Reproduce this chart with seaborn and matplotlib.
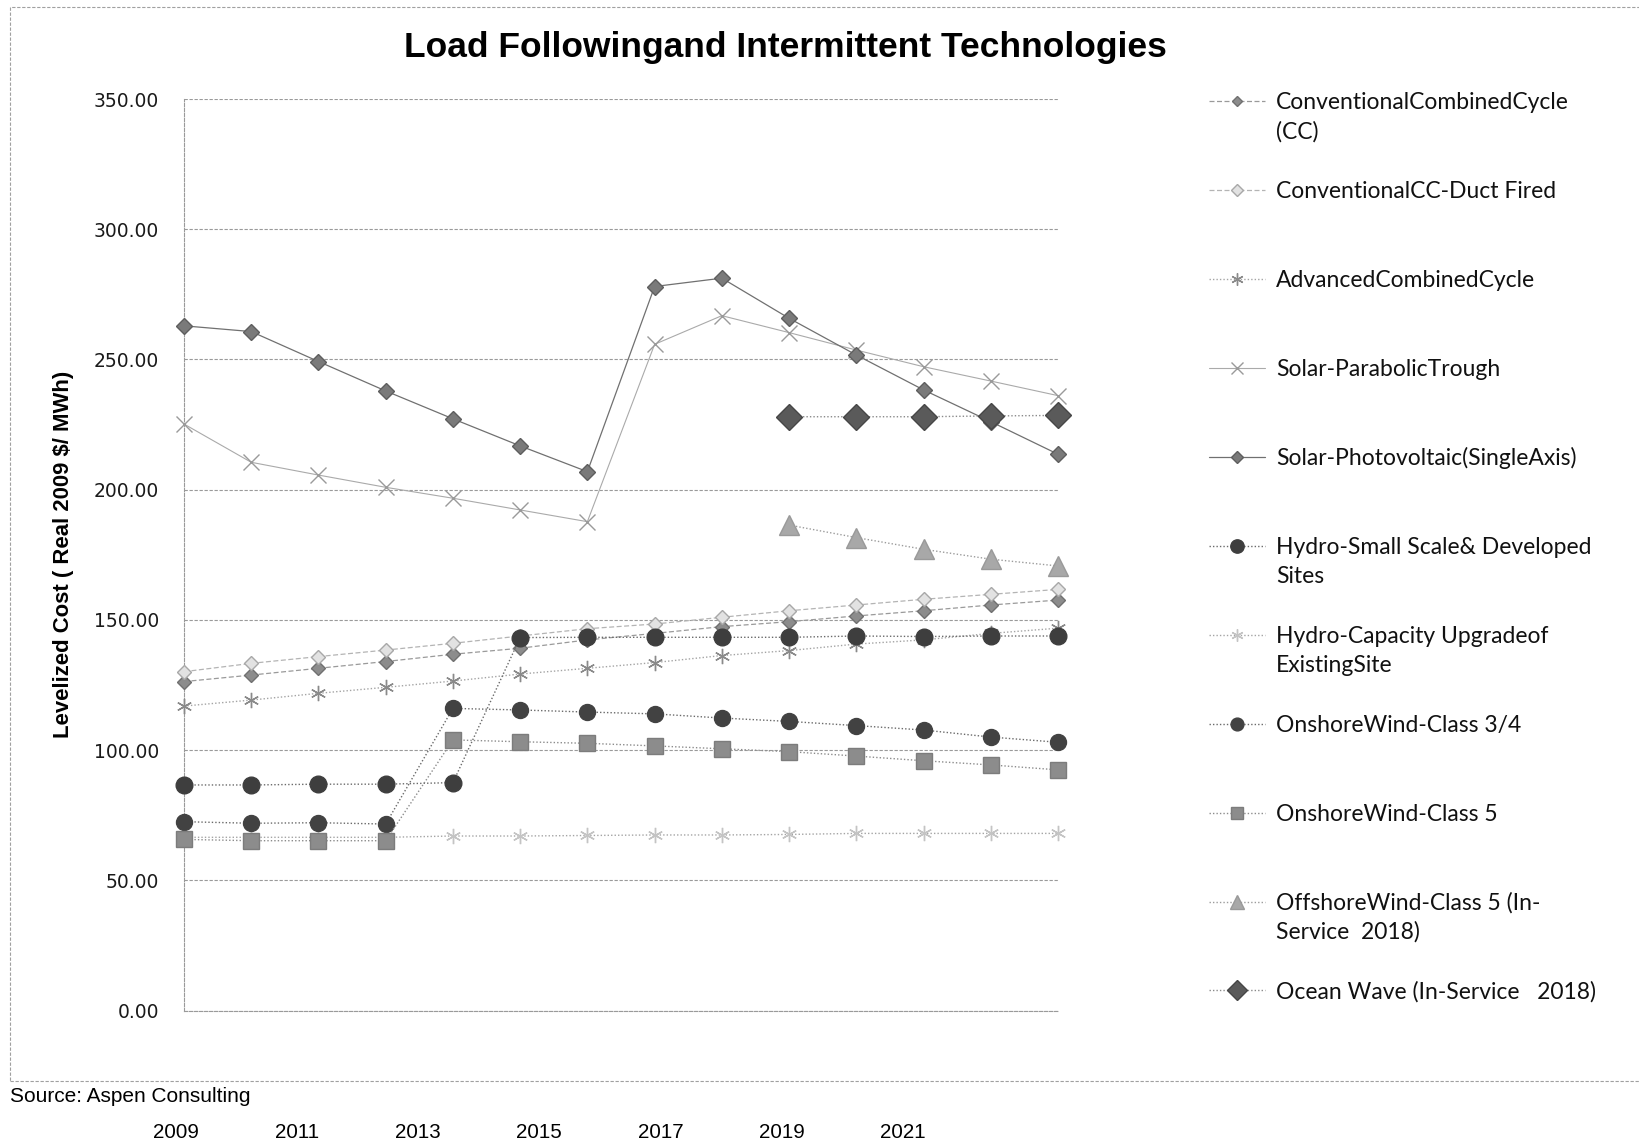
import matplotlib
matplotlib.use("Agg")
import matplotlib.pyplot as plt
from matplotlib.lines import Line2D
from matplotlib.patches import Rectangle
from matplotlib.ticker import FormatStrFormatter
import numpy as np
import seaborn as sns

sns.set_style("white")
plt.rcParams["font.family"] = ["Liberation Sans", "DejaVu Sans"]
plt.rcParams["text.color"] = "black"
plt.rcParams["axes.labelcolor"] = "black"

nan = np.nan

years = [2009, 2010, 2011, 2012, 2013, 2014, 2015, 2016, 2017, 2018, 2019, 2020, 2021, 2022]
year_labels = [2009, 2011, 2013, 2015, 2017, 2019, 2021]
y_ticks = [0, 50, 100, 150, 200, 250, 300, 350]

cc = [126.3, 128.8, 131.4, 134.0, 136.8, 139.1, 142.3, 144.8, 147.4, 149.3, 151.5, 153.5, 155.7, 157.6]
cc_duct = [130.1, 133.3, 135.9, 138.4, 141.0, 143.8, 146.6, 148.4, 151.0, 153.5, 155.7, 157.9, 159.8, 161.7]
adv_cc = [116.9, 119.2, 121.8, 124.1, 126.5, 129.2, 131.4, 133.6, 136.3, 138.2, 140.7, 142.3, 144.8, 146.8]
trough = [225.2, 210.5, 205.6, 200.9, 196.7, 192.2, 187.7, 255.8, 266.8, 260.3, 253.6, 247.2, 241.7, 236.1]
pv = [262.9, 260.7, 249.2, 237.9, 227.2, 216.8, 206.9, 278.0, 281.2, 265.8, 251.7, 238.3, 226.1, 213.6]
hydro_small = [86.6, 86.6, 86.9, 86.9, 87.5, 143.2, 143.3, 143.3, 143.3, 143.3, 143.8, 143.6, 143.8, 143.8]
hydro_upgrade = [66.5, 66.5, 66.5, 66.5, 67.0, 67.0, 67.2, 67.4, 67.4, 67.6, 68.0, 68.0, 68.0, 68.0]
wind34 = [72.5, 71.9, 72.1, 71.6, 116.0, 115.4, 114.6, 113.9, 112.3, 111.0, 109.4, 107.7, 105.0, 103.0]
wind5 = [65.7, 65.2, 65.2, 65.2, 103.9, 103.2, 102.6, 101.6, 100.5, 99.4, 97.7, 95.9, 94.3, 92.4]
offshore = [nan, nan, nan, nan, nan, nan, nan, nan, nan, 186.4, 181.6, 177.1, 173.3, 170.7]
ocean = [nan, nan, nan, nan, nan, nan, nan, nan, nan, 228.0, 228.0, 228.0, 228.3, 228.5]

names = [
    "ConventionalCombinedCycle\n(CC)",
    "ConventionalCC-Duct Fired",
    "AdvancedCombinedCycle",
    "Solar-ParabolicTrough",
    "Solar-Photovoltaic(SingleAxis)",
    "Hydro-Small Scale& Developed\nSites",
    "Hydro-Capacity Upgradeof\nExistingSite",
    "OnshoreWind-Class 3/4",
    "OnshoreWind-Class 5",
    "OffshoreWind-Class 5 (In-\nService  2018)",
    "Ocean Wave (In-Service   2018)",
]
series = [cc, cc_duct, adv_cc, trough, pv, hydro_small, hydro_upgrade, wind34, wind5, offshore, ocean]

asterisk = (6, 2, 0)
# marker, size, face, edge, line colour, line style, line width
styles = [
    ("D", 7, "#8c8c8c", "#707070", "#9a9a9a", (0, (4, 2)), 0.9),
    ("D", 7.5, "#e2e2e2", "#a8a8a8", "#b4b4b4", (0, (4, 2)), 0.9),
    (asterisk, 11, "#8a8a8a", "#8a8a8a", "#a4a4a4", (0, (1, 1.5)), 1.0),
    ("x", 11, "#9a9a9a", "#9a9a9a", "#aaaaaa", "-", 0.8),
    ("D", 8, "#7a7a7a", "#5e5e5e", "#707070", "-", 0.9),
    ("o", 12, "#3e3e3e", "#3e3e3e", "#6a6a6a", (0, (1, 1.5)), 1.0),
    (asterisk, 11, "#c4c4c4", "#c4c4c4", "#a4a4a4", (0, (1, 1.5)), 1.0),
    ("o", 11.5, "#424242", "#424242", "#6a6a6a", (0, (1, 1.5)), 1.0),
    ("s", 11, "#8c8c8c", "#7c7c7c", "#8c8c8c", (0, (1, 1.5)), 1.0),
    ("^", 14, "#a8a8a8", "#999999", "#9c9c9c", (0, (1, 1.5)), 1.0),
    ("D", 13, "#5a5a5a", "#464646", "#8a8a8a", (0, (1, 1.5)), 1.0),
]

W, H = 1639, 1144
fig = plt.figure(figsize=(W / 100, H / 100), dpi=100)
ax = fig.add_axes([184 / W, 1 - 1010.5 / H, 874 / W, 911.5 / H])

for vals, (mk, ms, fc, ec, lc, ls, lw) in zip(series, styles):
    sns.lineplot(x=years, y=vals, ax=ax, color=lc, linestyle=ls, linewidth=lw,
                 marker=mk, markersize=ms, markerfacecolor=fc, markeredgecolor=ec,
                 markeredgewidth=1.0, clip_on=False, zorder=3)

ax.set_xlim(2009, 2022)
ax.set_ylim(0, 350)
ax.set_xticks(years)
ax.set_xticklabels([])
ax.set_yticks(y_ticks)
ax.yaxis.set_major_formatter(FormatStrFormatter("%.2f"))
ax.tick_params(axis="y", length=0, pad=18, labelsize=13.5, labelcolor="#1a1a1a")
ax.tick_params(axis="x", length=5, width=0.8, color="#9a9a9a", direction="out")
for lab in ax.get_yticklabels():
    lab.set_fontfamily("DejaVu Sans")
ax.grid(axis="y", color="#9a9a9a", linestyle=(0, (3, 1.5)), linewidth=0.8)
ax.set_axisbelow(True)
for side in ["top", "right"]:
    ax.spines[side].set_visible(False)
for side in ["left", "bottom"]:
    ax.spines[side].set_color("#9a9a9a")
    ax.spines[side].set_linestyle((0, (3, 1.5)))
    ax.spines[side].set_linewidth(0.8)
ax.set_xlabel("")
ax.set_ylabel("Levelized Cost ( Real 2009 $/ MWh)", fontsize=15.9, fontweight="bold",
              labelpad=0)
ax.yaxis.set_label_coords(-(184 - 74) / 874, 0.5)

fig.text(785 / W, 1 - 47 / H, "Load Followingand Intermittent Technologies",
         ha="center", va="center", fontsize=25.5, fontweight="bold")

# year labels sit below the frame on their own scale
ax_years = fig.add_axes([175.6 / W, 21 / H, 787.8 / W, 0.0001])
ax_years.set_xlim(2009, 2022)
ax_years.set_xticks(year_labels)
ax_years.set_xticklabels([str(y) for y in year_labels], fontsize=14.8)
ax_years.set_yticks([])
ax_years.tick_params(axis="x", length=0, pad=0, labelcolor="black")
for s in ax_years.spines.values():
    s.set_visible(False)
ax_years.patch.set_visible(False)

fig.text(10.5 / W, 1 - 1097 / H, "Source: Aspen Consulting", ha="left", va="center",
         fontsize=15)

# outer chart frame
fig.add_artist(Rectangle((10 / W, 1 - 1081 / H), (W + 20) / W, (1081 - 7) / H,
                         transform=fig.transFigure, fill=False, edgecolor="#a0a0a0",
                         linestyle=(0, (3, 1.5)), linewidth=0.8))

# legend drawn entry by entry on a fixed pitch
for i, (name, (mk, ms, fc, ec, lc, ls, lw)) in enumerate(zip(names, styles)):
    yf = 1 - (101.4 + i * 88.9) / H
    fig.add_artist(Line2D([1209 / W, 1265 / W], [yf, yf], transform=fig.transFigure,
                          color=lc, linestyle=ls, linewidth=lw))
    fig.add_artist(Line2D([1237 / W], [yf], transform=fig.transFigure, marker=mk,
                          markersize=min(ms * 0.8, 10), markerfacecolor=fc,
                          markeredgecolor=ec, linestyle="none"))
    for j, line in enumerate(name.split("\n")):
        fig.text(1276 / W, yf - (8 + j * 29) / H, line, ha="left", va="baseline",
                 fontsize=16.5, family=["Lato", "DejaVu Sans"], color="#111111")

fig.savefig("out.png", dpi=100)
